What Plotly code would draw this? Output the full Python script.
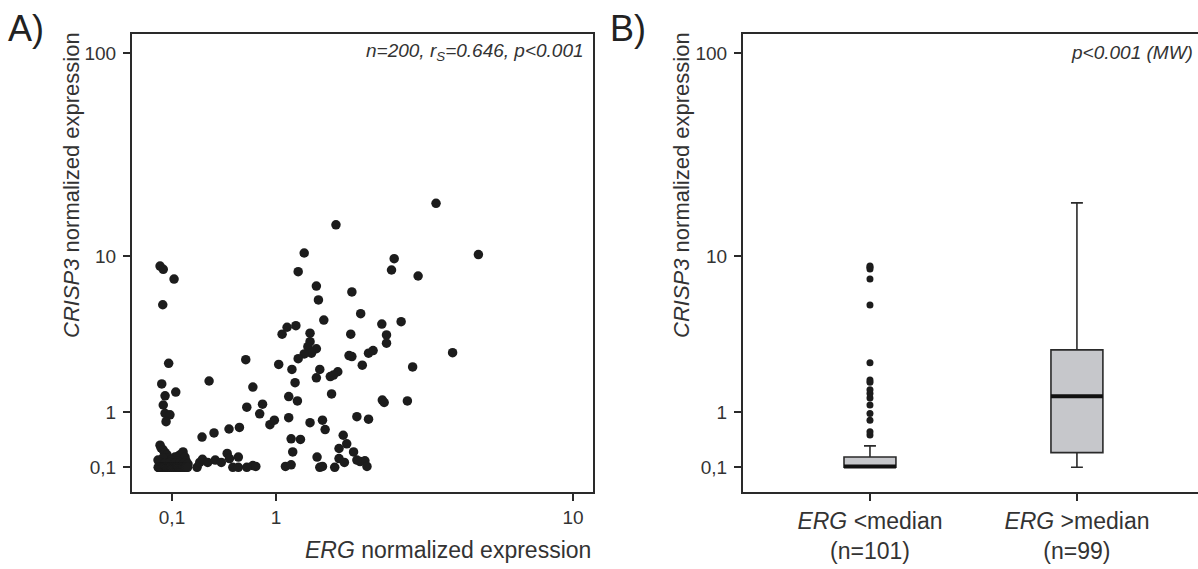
import plotly.graph_objects as go

# ---------------- data ----------------
# Panel A: ERG vs CRISP3 normalized expression (n=200)
erg_expr = [
    # left cluster, raised CRISP3
    0.027, 0.046, 0.113, 0.043, 0.079, 0.037, 0.124, 0.057, 0.046, 0.057, 0.087, 0.063,
    # middle points
    0.361, 0.307, 0.40, 0.526, 0.62, 0.68, 0.75, 0.69, 0.82, 0.85, 0.75, 0.78, 0.93, 0.98,
    # right cloud
    4.01, 1.82, 1.35, 5.39, 2.94, 2.88, 1.27, 3.52, 1.52, 1.55, 2.09, 2.25, 1.63, 2.67, 2.77, 2.77, 3.10,
    1.13, 1.24, 1.07, 1.43, 1.43, 1.40, 1.52, 1.45, 1.35, 1.27, 2.07,
    2.04, 2.09, 2.40, 2.49,
    2.28, 4.51, 1.03, 1.19, 1.57, 1.52, 1.73, 1.85, 1.78, 3.38, 1.23, 1.75, 1.15, 1.26,
    2.68, 2.72, 3.25,
    1.15, 1.43, 1.61, 1.65, 2.18, 2.40, 1.18, 1.30, 1.94, 2.00, 2.12, 1.87, 1.20,
    1.11, 1.18, 1.53, 1.57, 1.61, 1.80, 1.87, 1.96, 2.24, 2.33, 2.37, 2.18,
    # low trail
    0.27, 0.29, 0.31, 0.35, 0.41, 0.46, 0.51, 0.53, 0.56, 0.61, 0.61, 0.69,
    # dense low cluster, slightly raised
    0.027, 0.033, 0.045, 0.057, 0.069, 0.075, 0.119, 0.139, 0.152, 0.172, 0.185, 0.093,
    0.132, 0.015, 0.045, 0.192, 0.027, 0.057, 0.087, 0.119, 0.152, 0.179, 0.206,
    # dense low cluster at the floor
    0.016, 0.019, 0.022, 0.022, 0.025, 0.028, 0.029, 0.031, 0.034, 0.035, 0.038, 0.040, 0.041,
    0.044, 0.046, 0.047, 0.050, 0.052, 0.053, 0.056, 0.058, 0.060, 0.061, 0.064, 0.066, 0.068,
    0.070, 0.071, 0.073, 0.076, 0.079, 0.080, 0.082, 0.085, 0.088, 0.090, 0.092, 0.095, 0.097,
    0.100, 0.103, 0.105, 0.108, 0.112, 0.115, 0.118, 0.121, 0.125, 0.128, 0.131, 0.135, 0.138,
    0.142, 0.146, 0.149, 0.155, 0.158, 0.163, 0.168, 0.171, 0.176, 0.182, 0.188, 0.195, 0.203,
]
crisp3_expr = [
    8.89, 8.54, 7.58, 5.48, 2.42, 1.73, 1.50, 1.40, 1.17, 0.98, 0.95, 0.81,
    1.82, 0.53, 0.60, 0.67, 0.70, 2.56, 1.64, 1.12, 0.97, 1.19, 0.12, 0.11, 0.75, 0.84,
    18.6, 14.5, 10.4, 10.2, 9.71, 8.47, 8.30, 7.87, 6.95, 5.83, 6.45, 4.88, 4.48, 4.25, 3.66, 3.26, 4.39,
    4.07, 4.16, 3.70, 3.75, 3.33, 3.10, 3.01, 2.82, 2.79, 2.60, 3.70,
    2.72, 2.68, 2.82, 2.93,
    2.35, 2.84, 2.38, 2.20, 2.20, 1.92, 1.96, 2.12, 2.01, 2.29, 1.77, 1.45, 1.38, 1.27,
    1.29, 1.23, 1.27,
    0.89, 0.79, 0.84, 0.66, 0.91, 0.86, 0.50, 0.49, 0.56, 0.42, 0.30, 0.35, 0.30,
    0.11, 0.13, 0.23, 0.10, 0.11, 0.10, 0.21, 0.16, 0.17, 0.18, 0.11, 0.19,
    0.10, 0.16, 0.20, 0.16, 0.19, 0.16, 0.28, 0.21, 0.10, 0.23, 0.10, 0.10,
    0.40, 0.36, 0.33, 0.29, 0.26, 0.22, 0.23, 0.24, 0.26, 0.30, 0.23, 0.19,
    0.18, 0.19, 0.22, 0.18, 0.16, 0.15, 0.16, 0.15, 0.16, 0.15, 0.14,
    0.10, 0.10, 0.10, 0.10, 0.10, 0.10, 0.10, 0.10, 0.10, 0.10, 0.10, 0.10, 0.10,
    0.10, 0.10, 0.10, 0.10, 0.10, 0.10, 0.10, 0.10, 0.10, 0.10, 0.10, 0.10, 0.10,
    0.10, 0.10, 0.10, 0.10, 0.10, 0.10, 0.10, 0.10, 0.10, 0.10, 0.10, 0.10, 0.10,
    0.10, 0.10, 0.10, 0.10, 0.10, 0.10, 0.10, 0.10, 0.10, 0.10, 0.10, 0.10, 0.10,
    0.10, 0.10, 0.10, 0.10, 0.10, 0.10, 0.10, 0.10, 0.10, 0.10, 0.10, 0.10, 0.10,
]

# Panel B: box plot statistics by ERG group
group_labels = ["<i>ERG</i> &lt;median<br>(n=101)", "<i>ERG</i> &gt;median<br>(n=99)"]
group_pos = [0, 1]
box_lowerfence = [0.10, 0.10]
box_q1 = [0.10, 0.29]
box_median = [0.11, 1.39]
box_q3 = [0.23, 2.96]
box_upperfence = [0.39, 18.7]
group1_outliers = [0.565, 0.62, 0.84, 0.98, 1.17, 1.34, 1.46, 1.56, 1.78, 1.85,
                   2.44, 5.47, 7.58, 8.57, 8.75, 8.89]

# axis ticks
y_tick_values = [0.1, 1, 10, 100]
y_tick_labels = ["0,1", "1", "10", "100"]
x_tick_values = [0.1, 1, 10]
x_tick_labels = ["0,1", "1", "10"]

OFFSET = 1.0  # axes display log10(value + 1)
BOX_W = 0.251


def sh(vals):
    return [v + OFFSET for v in vals]


INK = "#1c1c1c"
LINE = "#2a2a2a"

fig = go.Figure()

fig.add_trace(go.Scatter(
    x=sh(erg_expr), y=sh(crisp3_expr), mode="markers",
    marker=dict(size=9.5, color=INK, line=dict(width=0)),
    xaxis="x", yaxis="y", hoverinfo="skip",
))

for i, pos in enumerate(group_pos):
    fig.add_trace(go.Box(
        x=[pos], q1=[box_q1[i] + OFFSET], median=[box_median[i] + OFFSET],
        q3=[box_q3[i] + OFFSET], lowerfence=[box_lowerfence[i] + OFFSET],
        upperfence=[box_upperfence[i] + OFFSET],
        orientation="v", width=BOX_W, whiskerwidth=0.23, boxpoints=False,
        fillcolor="#c6c7cb", line=dict(color=LINE, width=1.6),
        xaxis="x2", yaxis="y2", hoverinfo="skip",
    ))
    fig.add_trace(go.Scatter(
        x=[pos - BOX_W / 2, pos + BOX_W / 2],
        y=[box_median[i] + OFFSET] * 2, mode="lines",
        line=dict(color="#111111", width=4),
        xaxis="x2", yaxis="y2", hoverinfo="skip",
    ))

fig.add_trace(go.Scatter(
    x=[group_pos[0]] * len(group1_outliers), y=sh(group1_outliers), mode="markers",
    marker=dict(size=7, color=INK), xaxis="x2", yaxis="y2", hoverinfo="skip",
))

W, H = 1198, 569
axis_common = dict(
    showline=True, linewidth=2, linecolor=LINE, ticks="outside", ticklen=7,
    tickwidth=2, tickcolor=LINE, showgrid=False, zeroline=False, automargin=False,
    tickfont=dict(size=19, color="#333333"),
)
y_dom = [1 - 492 / H, 1 - 34 / H]
y_range = [-0.0758, 2.0948]

fig.update_layout(
    width=W, height=H, margin=dict(l=0, r=0, t=0, b=0, pad=0),
    paper_bgcolor="white", plot_bgcolor="white", showlegend=False,
    font=dict(family="Liberation Sans, Arial, sans-serif", color="#333333"),
    xaxis=dict(axis_common, type="log", domain=[132 / W, 593 / W],
               range=[-0.0584, 1.0913], tickvals=sh(x_tick_values),
               ticktext=x_tick_labels, mirror=True, anchor="y"),
    yaxis=dict(axis_common, type="log", domain=y_dom, range=y_range,
               tickvals=sh(y_tick_values), ticktext=y_tick_labels,
               mirror=True, anchor="x", ticklabelstandoff=3),
    xaxis2=dict(axis_common, type="linear", domain=[743 / W, 1.0],
                range=[-0.6135, 1.585], tickvals=group_pos, ticktext=group_labels,
                mirror=True, anchor="y2", tickfont=dict(size=23, color="#333333")),
    yaxis2=dict(axis_common, type="log", domain=y_dom, range=y_range,
                tickvals=sh(y_tick_values), ticktext=y_tick_labels,
                mirror=False, anchor="x2", ticklabelstandoff=3),
)

ann = []
ann.append(dict(text="<i>ERG</i> normalized expression", x=593 / W, y=1 - 550 / H,
                xref="paper", yref="paper", xanchor="right", yanchor="middle",
                showarrow=False, font=dict(size=23)))
for xc in (71, 681):
    ann.append(dict(text="<i>CRISP3</i> normalized expression", x=xc / W, y=1 - 185 / H,
                    xref="paper", yref="paper", xanchor="center", yanchor="middle",
                    textangle=-90, showarrow=False, font=dict(size=22)))
ann.append(dict(text="<i>n=200, r<sub>S</sub>=0.646, p&lt;0.001</i>", x=586 / W, y=1 - 52 / H,
                xref="paper", yref="paper", xanchor="right", yanchor="middle",
                showarrow=False, font=dict(size=19)))
ann.append(dict(text="<i>p&lt;0.001 (MW)</i>", x=1195 / W, y=1 - 52 / H,
                xref="paper", yref="paper", xanchor="right", yanchor="middle",
                showarrow=False, font=dict(size=19)))
ann.append(dict(text="A)", x=6 / W, y=1 - 29 / H, xref="paper", yref="paper",
                xanchor="left", yanchor="middle", showarrow=False,
                font=dict(size=36, color="#222222")))
ann.append(dict(text="B)", x=608 / W, y=1 - 29 / H, xref="paper", yref="paper",
                xanchor="left", yanchor="middle", showarrow=False,
                font=dict(size=36, color="#222222")))
fig.update_layout(annotations=ann)

# remove the browser's default page margin so the figure starts at the window corner
fig.write_html("out.html", config={"displayModeBar": False},
               post_script="document.body.style.margin='0';document.body.style.overflow='hidden';")
